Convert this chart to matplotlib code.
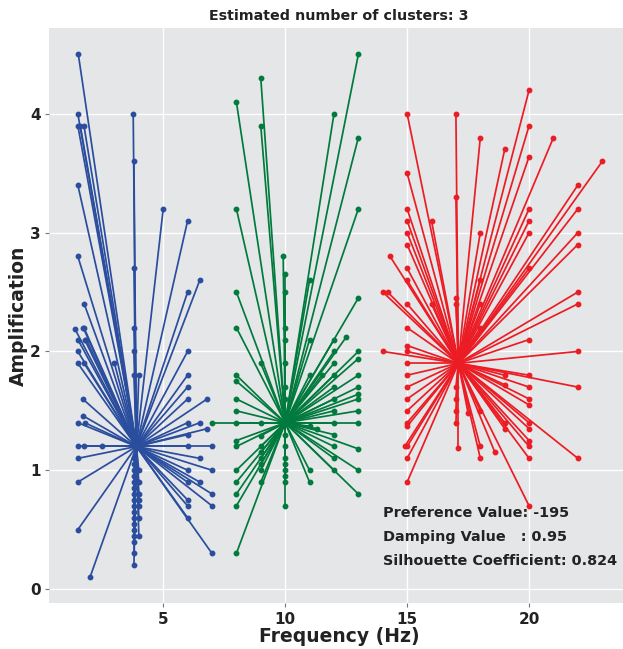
import numpy as np
import matplotlib
matplotlib.use("Agg")
import matplotlib.pyplot as plt

# cluster centres (frequency, amplification)
centers = [(3.9, 1.2), (10.0, 1.4), (17.1, 1.9)]
colors = ['#2a4d9e', '#007a3d', '#ec1c24']

# cluster 0 (blue)
blue_x = [1.52, 1.5, 1.5, 1.6, 1.75, 1.5, 3.77, 3.8, 5.0, 6.0, 1.5, 3.8, 1.76, 6.0, 6.5,
          1.38, 1.72, 1.75, 3.8, 1.5, 1.78, 1.85, 1.5, 1.5, 1.76, 3.0, 3.8, 3.8, 4.0,
          6.0, 6.0, 6.0, 6.0, 6.8, 1.7, 1.7, 1.5, 1.78, 6.0, 6.5, 6.8, 6.0,
          1.5, 1.76, 2.5, 6.0, 7.0, 1.5, 6.5, 7.0, 6.0, 6.5, 6.0, 7.0, 6.0, 6.0, 7.0, 6.0,
          7.0, 1.5, 1.5, 2.0,
          3.8, 3.8, 3.8, 3.8, 3.8, 3.8, 3.8, 3.8, 3.8, 3.8, 3.8, 3.8, 3.8, 3.8, 3.8, 3.8, 3.8,
          4.0, 4.0, 4.0, 4.0, 4.0, 4.0, 4.0]
blue_y = [4.5, 4.0, 3.9, 3.9, 3.9, 3.4, 4.0, 3.6, 3.2, 3.1, 2.8, 2.7, 2.4, 2.5, 2.6,
          2.19, 2.2, 2.2, 2.2, 2.1, 2.1, 2.1, 2.0, 1.9, 1.9, 1.9, 2.0, 1.8, 1.8,
          2.0, 1.8, 1.7, 1.6, 1.6, 1.6, 1.46, 1.4, 1.4, 1.4, 1.4, 1.35, 1.3,
          1.2, 1.2, 1.2, 1.2, 1.2, 1.1, 1.1, 1.0, 1.0, 0.9, 0.9, 0.8, 0.75, 0.7, 0.7, 0.6,
          0.3, 0.9, 0.5, 0.1,
          1.1, 1.05, 1.0, 0.95, 0.9, 0.85, 0.8, 0.75, 0.7, 0.65, 0.6, 0.55, 0.5, 0.45, 0.4, 0.3, 0.2,
          1.0, 0.9, 0.8, 0.75, 0.7, 0.6, 0.45]

# cluster 1 (green)
green_x = [8.0, 9.0, 9.0, 13.0, 12.0, 13.0, 8.0, 13.0, 9.92, 10.0, 10.0, 11.0, 8.0, 13.0,
           8.0, 10.0, 10.0, 11.0, 9.0, 10.0, 12.0, 12.5, 12.0, 13.0, 13.0, 12.0,
           11.0, 11.5, 12.0, 13.0, 8.0, 8.0, 12.0, 13.0, 13.0, 12.0, 13.0, 8.0,
           12.0, 13.0, 8.0, 10.0, 10.0, 7.0, 8.0, 9.0, 12.0, 13.0, 11.0, 11.3, 12.0,
           8.0, 9.0, 8.0, 9.0, 10.0, 12.0, 13.0, 12.0, 9.0, 10.0,
           8.0, 9.0, 10.0, 11.0, 12.0, 13.0, 8.0, 9.0, 10.0, 11.0,
           13.0, 8.0, 8.0, 10.0, 8.0, 9.0, 9.0, 10.0, 10.0, 10.0]
green_y = [4.1, 4.3, 3.9, 4.5, 4.0, 3.8, 3.2, 3.2, 2.8, 2.65, 2.5, 2.6, 2.5, 2.45,
           2.2, 2.2, 2.1, 2.1, 1.9, 1.9, 2.1, 2.12, 2.0, 2.0, 1.94, 1.9,
           1.8, 1.8, 1.8, 1.8, 1.8, 1.75, 1.7, 1.7, 1.64, 1.6, 1.6, 1.6,
           1.5, 1.5, 1.5, 1.7, 1.6, 1.4, 1.4, 1.4, 1.4, 1.4, 1.37, 1.35, 1.3,
           1.25, 1.29, 1.2, 1.2, 1.2, 1.2, 1.18, 1.1, 1.1, 1.1,
           1.0, 1.0, 1.0, 1.0, 1.0, 1.0, 0.9, 0.9, 0.9, 0.9,
           0.8, 0.8, 0.7, 0.7, 0.3, 1.15, 1.05, 1.3, 1.05, 0.95]

# cluster 2 (red)
red_x = [15.0, 17.0, 20.0, 20.0, 18.0, 21.0, 19.0, 20.0, 23.0, 15.0, 17.0, 22.0,
         15.0, 15.0, 15.0, 15.0, 16.0, 20.0, 20.0, 20.0, 22.0, 22.0, 22.0, 18.0,
         14.3, 15.0, 15.0, 15.0, 20.0, 14.0, 14.2, 22.0, 22.0, 17.0, 17.0, 16.0,
         18.0, 18.0, 18.0, 15.0, 14.0, 15.0, 15.0, 20.0, 22.0,
         15.0, 15.0, 15.0, 15.0, 15.0, 15.0, 15.0, 15.0, 15.0, 14.9, 15.0,
         20.0, 19.0, 22.0, 20.0, 19.0, 20.0, 20.0, 17.0, 17.0, 17.0, 17.0,
         17.5, 18.0, 19.0, 19.0, 20.0, 20.0, 20.0, 20.0, 17.1, 18.0, 18.6,
         18.0, 20.0, 22.0, 20.0]
red_y = [4.0, 4.0, 4.2, 3.9, 3.8, 3.8, 3.7, 3.64, 3.6, 3.5, 3.3, 3.4,
         3.2, 3.1, 3.0, 2.9, 3.1, 3.2, 3.1, 3.0, 3.2, 3.0, 2.9, 3.0,
         2.8, 2.7, 2.6, 2.4, 2.7, 2.5, 2.5, 2.5, 2.4, 2.45, 2.4, 2.4,
         2.6, 2.4, 2.2, 2.2, 2.0, 2.05, 2.0, 2.1, 2.0,
         1.9, 1.8, 1.7, 1.6, 1.5, 1.4, 1.37, 1.2, 1.1, 1.2, 0.9,
         1.8, 1.8, 1.7, 1.7, 1.72, 1.6, 1.55, 1.7, 1.6, 1.5, 1.4,
         1.48, 1.5, 1.4, 1.35, 1.4, 1.35, 1.25, 1.2, 1.19, 1.2, 1.15,
         1.1, 1.1, 1.1, 0.7]

clusters = [(blue_x, blue_y), (green_x, green_y), (red_x, red_y)]

info = ["Preference Value: -195",
        "Damping Value   : 0.95",
        "Silhouette Coefficient: 0.824"]

plt.rcParams['font.family'] = 'DejaVu Sans'
plt.rcParams['font.weight'] = 'bold'

W, H = 623, 649
fig = plt.figure(figsize=(W / 100, H / 100), dpi=100)
ax = fig.add_axes([49.3 / W, (H - 603.3) / H, (W - 49.3) / W, (603.3 - 28.3) / H])
ax.set_facecolor('#e5e6e8')
for s in ax.spines.values():
    s.set_visible(False)
ax.grid(True, color='white', lw=1.0)
ax.set_axisbelow(True)

for (cx, cy), (xs, ys), col in zip(centers, clusters, colors):
    for x, y in zip(xs, ys):
        ax.plot([cx, x], [cy, y], color=col, lw=1.25)
    ax.plot(xs, ys, 'o', color=col, ms=3.2)
    ax.plot(cx, cy, 'o', color=col, ms=4)

for i, t in enumerate(info):
    ax.text(14.0, 0.64 - i * 0.2, t, fontsize=10.4, fontweight='bold',
            color='#222222', va='center', ha='left')

ax.set_xlim(0.33, 23.85)
ax.set_ylim(-0.12, 4.72)
ax.set_xticks([5, 10, 15, 20])
ax.set_yticks([0, 1, 2, 3, 4])
ax.tick_params(length=3, color='#777777', labelsize=11, labelcolor='#222222', pad=3)

# the original axes run a little past the right edge, so centre texts at x=339 px
cx_frac = (339 - 49.3) / (W - 49.3)
ax.set_xlabel('Frequency (Hz)', fontsize=13.5, fontweight='bold', color='#222222')
ax.set_ylabel('Amplification', fontsize=13.5, fontweight='bold', color='#222222')
ax.xaxis.set_label_coords(cx_frac, -(636 - 603.3) / (603.3 - 28.3))
ax.yaxis.set_label_coords(-(49.3 - 18) / (W - 49.3), 0.5)
ax.xaxis.label.set_va('center')
ax.yaxis.label.set_va('center')
ax.set_title('Estimated number of clusters: 3', fontsize=10.3, fontweight='bold',
             color='#222222', x=cx_frac, pad=6)

fig.savefig('out.png', dpi=100)
